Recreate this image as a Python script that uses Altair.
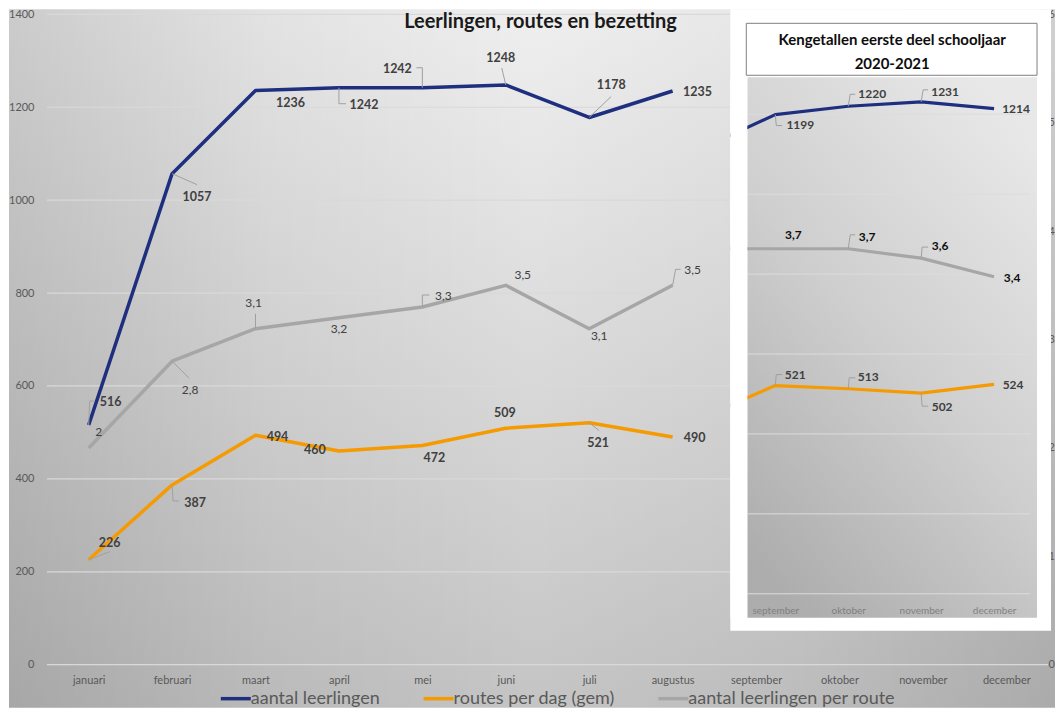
import json
import altair as alt
import pandas as pd

# ---------------- data ----------------
months = ["januari", "februari", "maart", "april", "mei", "juni", "juli",
          "augustus", "september", "oktober", "november", "december"]
series_names = ["aantal leerlingen", "routes per dag (gem)", "aantal leerlingen per route"]
series_colors = ["#1f2f7f", "#f59a00", "#a6a6a6"]

leerlingen = [516, 1057, 1236, 1242, 1242, 1248, 1178, 1235]
routes = [226, 387, 494, 460, 472, 509, 521, 490]
bezetting = [2.0, 2.8, 3.1, 3.2, 3.3, 3.5, 3.1, 3.5]

left_ticks = [0, 200, 400, 600, 800, 1000, 1200, 1400]
right_ticks = [0, 1, 2, 3, 4, 5, 6]
main_title = "Leerlingen, routes en bezetting"

inset_title = ["Kengetallen eerste deel schooljaar", "2020-2021"]
inset_months = ["augustus", "september", "oktober", "november", "december"]
inset_leerlingen = [1115, 1199, 1220, 1231, 1214]
inset_routes = [442, 521, 513, 502, 524]
inset_bezetting = [3.7, 3.7, 3.7, 3.6, 3.4]
inset_grid = [0, 200, 400, 600, 800, 1000, 1200]

# label placement (pixel offset of label centre from its point)
off_leerlingen = [(22, -23), (25, 23), (35, 12), (25, 17), (-25, -19), (-5, -27), (22, -32), (25, 1)]
off_routes = [(21, -17), (23, 18), (22, 2), (-24, -1), (12, 13), (-1, -15), (9, 20), (22, 1)]
off_bezetting = [(10, -16), (18, 29), (-2, -26), (0, 11), (21, -11), (17, -10), (10, 7), (20, -15)]
off_in_leerlingen = [(25, 10), (24, -12), (24, -10), (22, 0)]
off_in_routes = [(20, -11), (20, -12), (21, 14), (19, 1)]
off_in_bezetting = [(18, -14), (19, -12), (19, -12), (18, 1)]

# leader-line shapes (pixel vertices relative to the point), keyed by point index
lead_leerlingen = {0: [(0, 0), (1, -24), (6, -24)], 1: [(0, 0), (25, 11)],
                   3: [(0, 0), (0, 16), (7, 16)], 4: [(0, 0), (0, -20), (-6, -20)],
                   5: [(0, 0), (-4, -17)], 6: [(0, 0), (22, -21)]}
lead_routes = {0: [(0, 0), (21, -8)], 1: [(0, 0), (1, 16), (7, 16)], 6: [(0, 0), (10, 8)]}
lead_bezetting = {1: [(0, 0), (17, 17)], 2: [(0, 0), (0, -15)],
                  4: [(0, 0), (0, -12), (7, -12)], 7: [(0, 0), (3, -16), (8, -16)]}
lead_in_leerlingen = {0: [(0, 0), (1, 11), (7, 11)], 1: [(0, 0), (2, -12), (7, -12)],
                      2: [(0, 0), (2, -12), (7, -12)]}
lead_in_routes = {0: [(0, 0), (1, -11), (7, -11)], 1: [(0, 0), (1, -11), (7, -11)],
                  2: [(0, 0), (1, 13), (7, 13)]}
lead_in_bezetting = {1: [(0, 0), (2, -14), (7, -14)], 2: [(0, 0), (1, -11), (7, -11)]}

# ---------------- geometry ----------------
MW_FULL = 1002              # full extent of the main x scale
MW, MH = 684, 656           # main view (inset view starts where it ends)
Y_TOP = 5
XPX = MW_FULL / 12.0
LPX = (MH - Y_TOP) / 1400.0
RPX = (MH - Y_TOP) / 6.0

IW, IH = 321, 622           # inset view (white card)
IX0, IX1 = 17, 307          # inset plot range inside the card
IY0, IY1 = 585, 68
IX_MIN, IX_MAX = -0.384, 3.589
IPX = (IX1 - IX0) / (IX_MAX - IX_MIN)
IY_MAX = 1292.5
IY2_MAX = 6 * IY_MAX / 1400
ILPX = (IY0 - IY1) / IY_MAX
IRPX = (IY0 - IY1) / IY2_MAX

FONT = "Lato"
LEAD_COLOR = "#a0a0a0"
dummy = pd.DataFrame({"a": [1]})


def fmt_int(v):
    return str(int(v))


def fmt_dec(v):
    return f"{v:g}".replace(".", ",")


def label_df(vals, offs, xpx, ypx, fmt):
    rows = []
    for k, (v, (dx, dy)) in enumerate(zip(vals, offs)):
        rows.append({"lx": k + dx / xpx, "ly": v - dy / ypx, "txt": fmt(v)})
    return pd.DataFrame(rows)


def leader_df(vals, shapes, xpx, ypx):
    rows = []
    for k, verts in shapes.items():
        v = vals[k]
        for (ax, ay), (bx, by) in zip(verts[:-1], verts[1:]):
            rows.append({"x": k + ax / xpx, "y": v - ay / ypx,
                         "x2": k + bx / xpx, "y2": v - by / ypx})
    return pd.DataFrame(rows)


# ---------------- encodings ----------------
def mx(field):
    return alt.X(field, type="quantitative",
                 scale=alt.Scale(domain=[-0.5, 11.5], range=[0, MW_FULL], nice=False, zero=False),
                 axis=alt.Axis(values=list(range(12)), title=None,
                               labelExpr=json.dumps(months) + "[datum.value]",
                               grid=False, ticks=False, domain=False, labelOverlap=False,
                               labelFlush=False, labelPadding=10, labelFontSize=11,
                               labelColor="#595959", labelFont=FONT, zindex=1))


def my_left(field):
    return alt.Y(field, type="quantitative",
                 scale=alt.Scale(domain=[0, 1400], range=[MH, Y_TOP], nice=False, zero=False),
                 axis=alt.Axis(values=left_ticks, title=None, orient="left", grid=False, format="d",
                               ticks=False, domain=False, labelPadding=13, labelFontSize=11,
                               labelColor="#595959", labelFont=FONT, zindex=1,
                               labelOverlap=False, labelFlush=False))


def my_right(field):
    return alt.Y(field, type="quantitative",
                 scale=alt.Scale(domain=[0, 6], range=[MH, Y_TOP], nice=False, zero=False),
                 axis=alt.Axis(values=right_ticks, title=None, orient="right", grid=False,
                               ticks=False, domain=False, labelPadding=0, labelFontSize=11,
                               offset=MW_FULL - MW,
                               labelColor="#595959", labelFont=FONT, zindex=1,
                               labelOverlap=False, labelFlush=False))


legend_spec = alt.Legend(orient="none", legendX=180, legendY=681, direction="horizontal",
                         title=None, symbolType="M-3,0H3", symbolStrokeWidth=3.5, symbolSize=100,
                         labelFontSize=18, labelColor="#595959", labelFont=FONT, labelLimit=0,
                         columnPadding=36, labelOffset=6, padding=0)
color_enc = alt.Color("series:N", scale=alt.Scale(domain=series_names, range=series_colors),
                      legend=legend_spec)

# ---------------- main chart ----------------
grad_base = alt.LinearGradient(gradient="linear", x1=0.5, y1=0, x2=0.5, y2=1, stops=[
    alt.GradientStop(color="#efefef", offset=0),
    alt.GradientStop(color="#dadada", offset=0.5),
    alt.GradientStop(color="#c4c4c4", offset=1)])
grad_side = alt.LinearGradient(gradient="linear", x1=0, y1=0, x2=1, y2=0, stops=[
    alt.GradientStop(color="rgba(0,0,0,0.15)", offset=0),
    alt.GradientStop(color="rgba(0,0,0,0.05)", offset=0.25),
    alt.GradientStop(color="rgba(0,0,0,0)", offset=0.5),
    alt.GradientStop(color="rgba(0,0,0,0.04)", offset=0.75),
    alt.GradientStop(color="rgba(0,0,0,0.13)", offset=1)])

bg_box = dict(x=alt.value(-38), x2=alt.value(1009), y=alt.value(0), y2=alt.value(699))
bg1 = alt.Chart(dummy).mark_rect(fill=grad_base).encode(**bg_box)
bg2 = alt.Chart(dummy).mark_rect(fill=grad_side).encode(**bg_box)

grid = alt.Chart(pd.DataFrame({"t": left_ticks})).mark_rule(color="#d9d9d9", strokeWidth=1.2).encode(
    y=my_left("t"), x=alt.value(0), x2=alt.value(MW_FULL))

title_txt = alt.Chart(dummy).mark_text(text=main_title, font=FONT, fontSize=20, fontWeight="bold",
                                       color="#1a1a1a", align="center", baseline="top").encode(
    x=alt.value(540 - 46), y=alt.value(3))

rows = []
for k, v in enumerate(leerlingen):
    rows.append({"series": series_names[0], "i": k, "v": v})
for k, v in enumerate(routes):
    rows.append({"series": series_names[1], "i": k, "v": v})
left_df = pd.DataFrame(rows)
gray_df = pd.DataFrame({"series": series_names[2], "i": list(range(len(bezetting))), "v": bezetting})

lines_left = alt.Chart(left_df).mark_line(strokeWidth=3.5, strokeJoin="round").encode(
    x=mx("i"), y=my_left("v"), color=color_enc)

lead_left = alt.Chart(pd.concat([leader_df(leerlingen, lead_leerlingen, XPX, LPX),
                                 leader_df(routes, lead_routes, XPX, LPX)])).mark_rule(
    color=LEAD_COLOR, strokeWidth=1).encode(x=mx("x"), y=my_left("y"), x2="x2:Q", y2="y2:Q")

lbl_left_df = pd.concat([label_df(leerlingen, off_leerlingen, XPX, LPX, fmt_int),
                         label_df(routes, off_routes, XPX, LPX, fmt_int)])
labels_left = alt.Chart(lbl_left_df).mark_text(font=FONT, fontSize=12.5, fontWeight="bold",
                                               color="#404040").encode(
    x=mx("lx"), y=my_left("ly"), text="txt:N")

gray_line = alt.Chart(gray_df).mark_line(strokeWidth=3.5, strokeJoin="round").encode(
    x=mx("i"), y=my_right("v"), color=color_enc)
lead_gray = alt.Chart(leader_df(bezetting, lead_bezetting, XPX, RPX)).mark_rule(
    color=LEAD_COLOR, strokeWidth=1).encode(x=mx("x"), y=my_right("y"), x2="x2:Q", y2="y2:Q")
gray_labels = alt.Chart(label_df(bezetting, off_bezetting, XPX, RPX, fmt_dec)).mark_text(
    font=FONT, fontSize=12, color="#404040").encode(x=mx("lx"), y=my_right("ly"), text="txt:N")

main = alt.layer(
    alt.layer(bg1, bg2, grid, title_txt, lines_left, lead_left, labels_left),
    alt.layer(gray_line, lead_gray, gray_labels),
).resolve_scale(y="independent").properties(width=MW, height=MH)


# ---------------- inset chart ----------------
def ix(field):
    return alt.X(field, type="quantitative",
                 scale=alt.Scale(domain=[IX_MIN, IX_MAX], range=[IX0, IX1], nice=False, zero=False),
                 axis=alt.Axis(values=[0, 1, 2, 3], title=None,
                               labelExpr=json.dumps(inset_months) + "[datum.value + 1]",
                               grid=False, ticks=False, domain=False, labelOverlap=False,
                               labelFlush=False, labelPadding=0, offset=-25, labelFontSize=10,
                               labelColor="#808080", labelFont=FONT, zindex=1))


def iy_left(field):
    return alt.Y(field, type="quantitative",
                 scale=alt.Scale(domain=[0, IY_MAX], range=[IY0, IY1], nice=False, zero=False),
                 axis=None)


def iy_right(field):
    return alt.Y(field, type="quantitative",
                 scale=alt.Scale(domain=[0, IY2_MAX], range=[IY0, IY1], nice=False, zero=False),
                 axis=None)


grad_inset = alt.LinearGradient(gradient="linear", x1=0.8, y1=0, x2=0.2, y2=1, stops=[
    alt.GradientStop(color="#e8e8e8", offset=0),
    alt.GradientStop(color="#cfcfcf", offset=0.5),
    alt.GradientStop(color="#adadad", offset=1)])

white_box = alt.Chart(dummy).mark_rect(fill="white").encode(
    x=alt.value(0), x2=alt.value(IW), y=alt.value(0), y2=alt.value(IH))
gray_area = alt.Chart(dummy).mark_rect(fill=grad_inset).encode(
    x=alt.value(IX0), x2=alt.value(IX1), y=alt.value(IY1), y2=alt.value(609))
header = alt.Chart(dummy).mark_rect(fill="white", stroke="#7f7f7f", strokeWidth=1).encode(
    x=alt.value(16), x2=alt.value(IX1), y=alt.value(14), y2=alt.value(66))
head1 = alt.Chart(dummy).mark_text(text=inset_title[0], font=FONT, fontSize=15, fontWeight="bold",
                                   color="#0d0d0d", align="center", baseline="middle").encode(
    x=alt.value(162), y=alt.value(31))
head2 = alt.Chart(dummy).mark_text(text=inset_title[1], font=FONT, fontSize=15, fontWeight="bold",
                                   color="#0d0d0d", align="center", baseline="middle").encode(
    x=alt.value(162), y=alt.value(55))
igrid = alt.Chart(pd.DataFrame({"t": inset_grid})).mark_rule(color="#dcdcdc", strokeWidth=1).encode(
    y=iy_left("t"), x=alt.value(IX0), x2=alt.value(300))

idx = [k - 1 for k in range(len(inset_months))]
in_navy = alt.Chart(pd.DataFrame({"i": idx, "v": inset_leerlingen})).mark_line(
    color=series_colors[0], strokeWidth=3.2, strokeJoin="round", clip=True).encode(
    x=ix("i"), y=iy_left("v"))
in_orange = alt.Chart(pd.DataFrame({"i": idx, "v": inset_routes})).mark_line(
    color=series_colors[1], strokeWidth=3.2, strokeJoin="round", clip=True).encode(
    x=ix("i"), y=iy_left("v"))
in_gray = alt.Chart(pd.DataFrame({"i": idx, "v": inset_bezetting})).mark_line(
    color=series_colors[2], strokeWidth=3.2, strokeJoin="round", clip=True).encode(
    x=ix("i"), y=iy_right("v"))
# white card margin hides the part of the lines left of the inset plot
margin_cover = alt.Chart(dummy).mark_rect(fill="white").encode(
    x=alt.value(0), x2=alt.value(IX0), y=alt.value(IY1), y2=alt.value(609))

in_lead_left = alt.Chart(pd.concat([leader_df(inset_leerlingen[1:], lead_in_leerlingen, IPX, ILPX),
                                    leader_df(inset_routes[1:], lead_in_routes, IPX, ILPX)])).mark_rule(
    color=LEAD_COLOR, strokeWidth=1).encode(x=ix("x"), y=iy_left("y"), x2="x2:Q", y2="y2:Q")
in_lead_gray = alt.Chart(leader_df(inset_bezetting[1:], lead_in_bezetting, IPX, IRPX)).mark_rule(
    color=LEAD_COLOR, strokeWidth=1).encode(x=ix("x"), y=iy_right("y"), x2="x2:Q", y2="y2:Q")

in_lbl_left = pd.concat([label_df(inset_leerlingen[1:], off_in_leerlingen, IPX, ILPX, fmt_int),
                         label_df(inset_routes[1:], off_in_routes, IPX, ILPX, fmt_int)])
in_labels_left = alt.Chart(in_lbl_left).mark_text(font=FONT, fontSize=12, fontWeight="bold",
                                                  color="#404040").encode(
    x=ix("lx"), y=iy_left("ly"), text="txt:N")
in_labels_gray = alt.Chart(label_df(inset_bezetting[1:], off_in_bezetting, IPX, IRPX, fmt_dec)).mark_text(
    font=FONT, fontSize=12, fontWeight="bold", color="#0d0d0d").encode(
    x=ix("lx"), y=iy_right("ly"), text="txt:N")

inset = alt.layer(
    alt.layer(white_box, gray_area, header, head1, head2, igrid, in_navy, in_orange,
              in_lead_left, in_labels_left),
    alt.layer(in_gray, in_lead_gray, in_labels_gray, margin_cover),
).resolve_scale(y="independent").properties(width=IW, height=IH)

chart = alt.hconcat(main, inset, spacing=0, bounds="flush").properties(padding=0).configure_view(stroke=None)

chart.save("out.html", embed_options={"renderer": "svg", "actions": False})
